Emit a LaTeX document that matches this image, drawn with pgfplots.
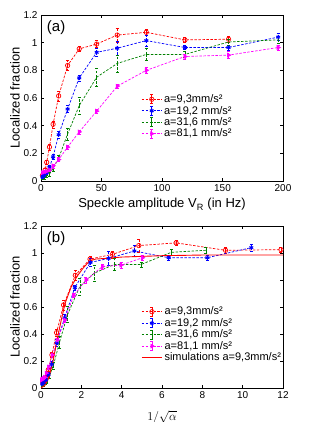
\documentclass[border=0pt]{standalone}
\usepackage{pgfplots}
\pgfplotsset{compat=1.18}
\usepackage{fontspec}
\setmainfont{Liberation Sans}
\definecolor{mred}{RGB}{255,0,0}
\definecolor{mblue}{RGB}{0,0,255}
\definecolor{mgreen}{RGB}{0,128,0}
\definecolor{mmag}{RGB}{255,0,255}
\pgfplotsset{
  common/.style={
    scale only axis, width=242pt, height=166pt,
    ymin=0, ymax=1.2, ytick={0,0.2,0.4,0.6,0.8,1,1.2},
    yticklabels={0,0.2,0.4,0.6,0.8,1,1.2},
    /pgf/number format/assume math mode=true,
    tick label style={font=\fontsize{10}{11}\selectfont},
    label style={font=\fontsize{13}{15}\selectfont},
    ylabel={Localized fraction},
    ylabel style={yshift=-3pt},
    major tick length=3pt,
    tick style={black, line width=0.4pt},
    axis line style={line width=0.6pt},
    legend style={draw=none, fill=none, font=\fontsize{11}{12}\selectfont, row sep=-2pt, inner sep=1pt},
    legend cell align=left,
    every axis plot/.append style={line width=0.7pt},
    error bars/y dir=both, error bars/y explicit,
    error bars/error mark options={rotate=90, mark size=1.5pt},
  },
  errleg/.style={legend image code/.code={
    \draw[##1, mark=none] (0pt,0pt) -- (5pt,0pt) (15pt,0pt) -- (20pt,0pt);
    \draw[##1, solid, mark=none] (10pt,-4.5pt) -- (10pt,4.5pt) (8.5pt,-4.5pt)--(11.5pt,-4.5pt) (8.5pt,4.5pt)--(11.5pt,4.5pt);
    \path[##1] plot[mark repeat=2, mark phase=2] coordinates {(0pt,0pt) (10pt,0pt) (20pt,0pt)};
  }},
  simleg/.style={legend image code/.code={\draw[color=mred, draw=mred, solid, line width=1.1pt] (0pt,0pt) -- (20pt,0pt);}},
  rs/.style={mred, dashed, dash pattern=on 2.5pt off 1.5pt, mark=o, mark size=2.2pt, mark options={solid, draw=mred}, errleg},
  bs/.style={mblue, dashed, dash pattern=on 2.5pt off 1.5pt, mark=asterisk, mark size=2.2pt, mark options={solid, line width=1pt, draw=mblue}, errleg},
  gs/.style={mgreen, dashed, dash pattern=on 2.5pt off 1.5pt, mark=none, errleg},
  ms/.style={mmag, dashed, dash pattern=on 2.5pt off 1.5pt, mark=triangle*, mark size=2.2pt, mark options={solid, rotate=-90, draw=mmag, fill=mmag}, errleg},
}
\begin{document}
\begin{tikzpicture}
\begin{axis}[common, at={(0pt,-166pt)}, anchor=origin,
  xmin=0, xmax=200, xtick={0,50,100,150,200},
  xlabel={Speckle amplitude V\textsubscript{R} (in Hz)},
  legend style={at={(rel axis cs:0.41,0.54)}, anchor=north west}]
\addplot+[rs] coordinates {
(1.2,0.04) +- (0,0.01) (2.5,0.055) +- (0,0.01) (3.5,0.08) +- (0,0.01) (4.7,0.135) +- (0,0.015)
(7,0.245) +- (0,0.02) (10,0.41) +- (0,0.025) (14.6,0.615) +- (0,0.035) (22,0.835) +- (0,0.035)
(31.6,0.955) +- (0,0.02) (46,0.99) +- (0,0.025) (63,1.055) +- (0,0.05) (87,1.075) +- (0,0.02)
(119,1.02) +- (0,0.02) (155,1.025) +- (0,0.02)};
\addlegendentry{a=9,3mm/s²}
\addplot+[bs] coordinates {
(1.2,0.03) +- (0,0.01) (2.5,0.04) +- (0,0.01) (4.7,0.06) +- (0,0.01) (7,0.1) +- (0,0.015)
(10,0.175) +- (0,0.02) (14.6,0.335) +- (0,0.025) (22,0.52) +- (0,0.025) (31.6,0.745) +- (0,0.02)
(46,0.93) +- (0,0.03) (63,0.96) +- (0,0.05) (87,1.015) +- (0,0.04) (119,0.965) +- (0,0.015)
(155,0.965) +- (0,0.02) (196,1.04) +- (0,0.025)};
\addlegendentry{a=19,2 mm/s²}
\addplot+[gs] coordinates {
(1.2,0.02) +- (0,0.01) (2.5,0.025) +- (0,0.01) (4.7,0.035) +- (0,0.01) (7,0.05) +- (0,0.015)
(10,0.09) +- (0,0.02) (14.6,0.165) +- (0,0.025) (22,0.34) +- (0,0.045) (31.6,0.545) +- (0,0.06)
(46,0.75) +- (0,0.065) (63,0.85) +- (0,0.06) (87,0.915) +- (0,0.045) (119,0.915) +- (0,0.02)
(155,1.005) +- (0,0.02) (196,1.02) +- (0,0.025)};
\addlegendentry{a=31,6 mm/s²}
\addplot+[ms] coordinates {
(1.2,0.06) +- (0,0.01) (2.5,0.065) +- (0,0.01) (4.7,0.07) +- (0,0.01) (7,0.08) +- (0,0.01)
(10,0.11) +- (0,0.015) (14.6,0.155) +- (0,0.015) (22,0.245) +- (0,0.015) (31.6,0.355) +- (0,0.015)
(46,0.505) +- (0,0.015) (63,0.685) +- (0,0.015) (87,0.8) +- (0,0.02) (119,0.9) +- (0,0.02)
(155,0.91) +- (0,0.025) (196,0.965) +- (0,0.02)};
\addlegendentry{a=81,1 mm/s²}
\node[anchor=north west, font=\fontsize{15}{17}\selectfont] at (rel axis cs:0.01,0.99) {(a)};
\end{axis}
\begin{axis}[common, at={(0pt,-373pt)}, anchor=origin, height=162pt,
  xmin=0, xmax=12, xtick={0,2,4,6,8,10,12},
  xlabel={$1/\sqrt{\alpha}$},
  xlabel style={font=\fontsize{13}{14}\selectfont, yshift=-5pt},
  legend style={at={(rel axis cs:0.41,0.52)}, anchor=north west}]
\addplot+[rs] coordinates {
(0.09,0.04) +- (0,0.01) (0.19,0.055) +- (0,0.01) (0.27,0.08) +- (0,0.01) (0.36,0.135) +- (0,0.015)
(0.54,0.245) +- (0,0.02) (0.77,0.41) +- (0,0.025) (1.12,0.615) +- (0,0.035) (1.7,0.835) +- (0,0.035)
(2.43,0.955) +- (0,0.02) (3.54,0.99) +- (0,0.025) (4.85,1.055) +- (0,0.05) (6.7,1.075) +- (0,0.02)
(9.15,1.02) +- (0,0.02) (11.9,1.025) +- (0,0.02)};
\addlegendentry{a=9,3mm/s²}
\addplot+[bs] coordinates {
(0.06,0.03) +- (0,0.01) (0.13,0.04) +- (0,0.01) (0.25,0.06) +- (0,0.01) (0.37,0.1) +- (0,0.015)
(0.53,0.175) +- (0,0.02) (0.78,0.335) +- (0,0.025) (1.17,0.52) +- (0,0.025) (1.68,0.745) +- (0,0.02)
(2.45,0.93) +- (0,0.03) (3.35,0.96) +- (0,0.05) (4.63,1.015) +- (0,0.04) (6.33,0.965) +- (0,0.015)
(8.25,0.965) +- (0,0.02) (10.43,1.04) +- (0,0.025)};
\addlegendentry{a=19,2 mm/s²}
\addplot+[gs] coordinates {
(0.05,0.02) +- (0,0.01) (0.1,0.025) +- (0,0.01) (0.2,0.035) +- (0,0.01) (0.29,0.05) +- (0,0.015)
(0.42,0.09) +- (0,0.02) (0.61,0.165) +- (0,0.025) (0.92,0.34) +- (0,0.045) (1.32,0.545) +- (0,0.06)
(1.92,0.75) +- (0,0.065) (2.63,0.85) +- (0,0.06) (3.63,0.915) +- (0,0.045) (4.96,0.915) +- (0,0.02)
(6.46,1.005) +- (0,0.02) (8.17,1.02) +- (0,0.025)};
\addlegendentry{a=31,6 mm/s²}
\addplot+[ms] coordinates {
(0.03,0.06) +- (0,0.01) (0.06,0.065) +- (0,0.01) (0.12,0.07) +- (0,0.01) (0.18,0.08) +- (0,0.01)
(0.26,0.11) +- (0,0.015) (0.37,0.155) +- (0,0.015) (0.56,0.245) +- (0,0.015) (0.81,0.355) +- (0,0.015)
(1.18,0.505) +- (0,0.015) (1.62,0.685) +- (0,0.015) (2.23,0.8) +- (0,0.02) (3.05,0.9) +- (0,0.02)
(3.97,0.91) +- (0,0.025) (5.03,0.965) +- (0,0.02)};
\addlegendentry{a=81,1 mm/s²}
\addplot[mred, solid, line width=0.9pt, mark=none, error bars/y dir=none, simleg] coordinates {
(0,0) (0.2,0.02) (0.4,0.08) (0.6,0.2) (0.8,0.36) (1.0,0.5) (1.2,0.63) (1.5,0.75) (1.8,0.83)
(2.1,0.89) (2.4,0.94) (2.7,0.955) (3.2,0.96) (4,0.97) (5,0.975) (6,0.98) (8,0.985) (10,0.985) (12,0.985)};
\addlegendentry{simulations a=9,3mm/s²}
\node[anchor=north west, font=\fontsize{15}{17}\selectfont] at (rel axis cs:0.01,0.99) {(b)};
\end{axis}
\pgfresetboundingbox
\path (-41pt,-407pt) rectangle (272pt,15pt);
\end{tikzpicture}
\end{document}
